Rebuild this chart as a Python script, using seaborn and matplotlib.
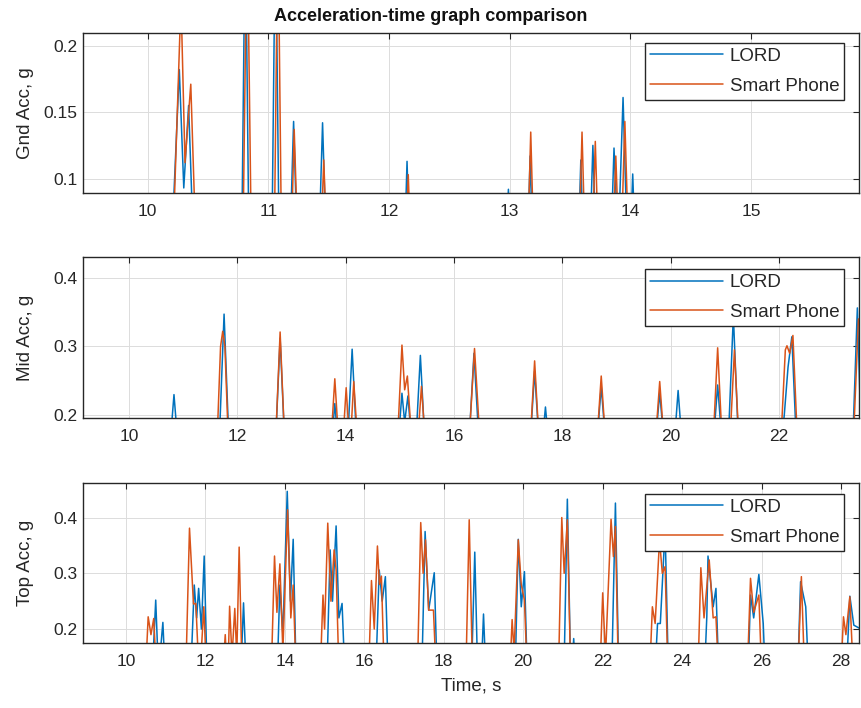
import numpy as np
import pandas as pd
import matplotlib
matplotlib.use("Agg")
import matplotlib.pyplot as plt
import seaborn as sns
from matplotlib.ticker import FuncFormatter
from matplotlib.lines import Line2D

# ---------------- data (time s, acceleration g) ----------------
gnd_lord = [(9.40, 0.05), (10.20, 0.05), (10.263, 0.182), (10.30, 0.093), (10.34, 0.155), (10.38, 0.05),
            (10.78, 0.05), (10.81, 0.30), (10.84, 0.05), (11.03, 0.05), (11.06, 0.30), (11.09, 0.05),
            (11.18, 0.05), (11.21, 0.143), (11.24, 0.05), (11.42, 0.05), (11.45, 0.142), (11.48, 0.05),
            (12.13, 0.05), (12.15, 0.113), (12.17, 0.05), (12.97, 0.05), (12.99, 0.092), (13.01, 0.05),
            (13.15, 0.05), (13.17, 0.117), (13.19, 0.05), (13.57, 0.05), (13.59, 0.114), (13.61, 0.05),
            (13.665, 0.05), (13.69, 0.125), (13.715, 0.05), (13.84, 0.05), (13.865, 0.123), (13.90, 0.05),
            (13.94, 0.161), (13.975, 0.05), (14.00, 0.05), (14.02, 0.1035), (14.04, 0.05), (16.0, 0.05)]
gnd_phone = [(9.40, 0.05), (10.21, 0.05), (10.277, 0.235), (10.31, 0.112), (10.358, 0.171), (10.40, 0.05),
             (10.79, 0.05), (10.825, 0.30), (10.86, 0.05), (11.05, 0.05), (11.08, 0.30), (11.11, 0.05),
             (11.19, 0.05), (11.215, 0.137), (11.245, 0.05), (11.435, 0.05), (11.46, 0.114), (11.485, 0.05),
             (12.14, 0.05), (12.16, 0.103), (12.18, 0.05), (13.15, 0.05), (13.175, 0.135), (13.20, 0.05),
             (13.575, 0.05), (13.60, 0.135), (13.625, 0.05), (13.685, 0.05), (13.71, 0.128), (13.735, 0.05),
             (13.855, 0.05), (13.88, 0.117), (13.905, 0.05), (13.925, 0.05), (13.955, 0.143), (13.985, 0.05),
             (16.0, 0.05)]

mid_lord = [(9.1, 0.15), (10.75, 0.15), (10.83, 0.230), (10.91, 0.15), (11.66, 0.15), (11.755, 0.347),
            (11.85, 0.15), (12.70, 0.15), (12.79, 0.312), (12.88, 0.15), (13.73, 0.15), (13.80, 0.217),
            (13.87, 0.15), (14.03, 0.15), (14.12, 0.296), (14.21, 0.15), (14.96, 0.15), (15.04, 0.232),
            (15.09, 0.19), (15.15, 0.228), (15.23, 0.15), (15.29, 0.15), (15.38, 0.287), (15.47, 0.15),
            (16.27, 0.15), (16.37, 0.290), (16.47, 0.15), (17.40, 0.15), (17.49, 0.264), (17.58, 0.15),
            (17.62, 0.15), (17.69, 0.212), (17.76, 0.15), (18.63, 0.15), (18.72, 0.242), (18.81, 0.15),
            (19.71, 0.15), (19.80, 0.233), (19.89, 0.15), (20.06, 0.15), (20.14, 0.236), (20.22, 0.15),
            (20.78, 0.15), (20.87, 0.244), (20.96, 0.15), (21.06, 0.15), (21.16, 0.345), (21.26, 0.15),
            (22.03, 0.15), (22.10, 0.20), (22.17, 0.27), (22.24, 0.314), (22.33, 0.15), (23.36, 0.15),
            (23.45, 0.356), (23.50, 0.22)]
mid_phone = [(9.1, 0.15), (11.62, 0.15), (11.69, 0.30), (11.73, 0.322), (11.77, 0.30), (11.84, 0.15),
             (12.70, 0.15), (12.79, 0.321), (12.88, 0.15), (13.72, 0.15), (13.80, 0.253), (13.88, 0.15),
             (13.94, 0.15), (14.01, 0.240), (14.08, 0.15), (14.15, 0.249), (14.23, 0.15), (14.95, 0.15),
             (15.04, 0.302), (15.09, 0.237), (15.14, 0.257), (15.23, 0.15), (15.32, 0.15), (15.40, 0.242),
             (15.48, 0.15), (16.27, 0.15), (16.38, 0.297), (16.49, 0.15), (17.40, 0.15), (17.49, 0.279),
             (17.58, 0.15), (18.63, 0.15), (18.72, 0.257), (18.81, 0.15), (19.71, 0.15), (19.80, 0.249),
             (19.89, 0.15), (20.78, 0.15), (20.87, 0.298), (20.96, 0.15), (21.09, 0.15), (21.18, 0.295),
             (21.27, 0.15), (22.03, 0.15), (22.12, 0.295), (22.15, 0.301), (22.20, 0.29), (22.26, 0.316),
             (22.35, 0.15), (23.37, 0.15), (23.47, 0.34), (23.50, 0.33)]

top_lord = [(8.9, 0.1), (10.65, 0.1), (10.75, 0.252), (10.82, 0.12), (10.93, 0.212), (11.0, 0.1),
            (11.62, 0.1), (11.72, 0.279), (11.78, 0.22), (11.83, 0.273), (11.90, 0.2), (11.97, 0.331), (12.05, 0.1),
            (12.88, 0.1), (12.96, 0.247), (13.04, 0.1),
            (13.80, 0.1), (13.875, 0.279), (13.95, 0.19), (14.06, 0.447), (14.14, 0.25), (14.21, 0.361), (14.29, 0.1),
            (15.05, 0.1), (15.14, 0.342), (15.20, 0.25), (15.29, 0.385), (15.36, 0.22), (15.44, 0.246), (15.52, 0.1),
            (16.28, 0.1), (16.375, 0.306), (16.45, 0.25), (16.53, 0.294), (16.61, 0.1),
            (17.44, 0.1), (17.53, 0.375), (17.62, 0.234), (17.76, 0.301), (17.84, 0.1),
            (18.69, 0.1), (18.78, 0.338), (18.86, 0.1), (18.93, 0.1), (19.0, 0.227), (19.07, 0.1),
            (19.79, 0.1), (19.875, 0.361), (19.95, 0.24), (20.03, 0.303), (20.11, 0.1),
            (21.02, 0.1), (21.11, 0.433), (21.20, 0.1), (21.27, 0.183), (21.33, 0.1),
            (22.22, 0.1), (22.32, 0.426), (22.41, 0.1),
            (23.30, 0.1), (23.38, 0.21), (23.45, 0.21), (23.57, 0.38), (23.66, 0.1),
            (24.55, 0.1), (24.62, 0.222), (24.65, 0.331), (24.78, 0.24), (24.85, 0.273), (24.93, 0.1),
            (25.65, 0.1), (25.72, 0.261), (25.80, 0.22), (25.93, 0.298), (26.04, 0.21), (26.10, 0.1),
            (26.90, 0.1), (26.98, 0.285), (27.11, 0.24), (27.19, 0.1),
            (28.12, 0.1), (28.22, 0.259), (28.32, 0.207), (28.50, 0.2)]
top_phone = [(8.9, 0.1), (10.48, 0.1), (10.56, 0.222), (10.63, 0.19), (10.70, 0.219), (10.78, 0.1),
             (11.50, 0.1), (11.60, 0.381), (11.70, 0.245), (11.76, 0.246), (11.85, 0.1), (11.96, 0.24), (12.04, 0.1),
             (12.42, 0.1), (12.50, 0.19), (12.56, 0.1), (12.61, 0.241), (12.67, 0.15), (12.74, 0.237),
             (12.79, 0.15), (12.85, 0.347), (12.93, 0.1),
             (13.65, 0.1), (13.74, 0.331), (13.80, 0.23), (13.875, 0.317), (13.95, 0.16), (14.07, 0.414),
             (14.15, 0.22), (14.21, 0.279), (14.29, 0.1),
             (14.88, 0.1), (14.96, 0.261), (15.0, 0.2), (15.08, 0.390), (15.16, 0.25), (15.24, 0.342),
             (15.29, 0.306), (15.37, 0.1),
             (16.10, 0.1), (16.18, 0.287), (16.25, 0.2), (16.33, 0.349), (16.38, 0.28), (16.43, 0.295), (16.51, 0.1),
             (17.33, 0.1), (17.42, 0.391), (17.48, 0.3), (17.54, 0.36), (17.62, 0.234), (17.74, 0.234), (17.82, 0.1),
             (18.55, 0.1), (18.64, 0.396), (18.73, 0.1),
             (19.65, 0.1), (19.72, 0.217), (19.77, 0.16), (19.875, 0.36), (19.95, 0.28), (20.03, 0.252), (20.11, 0.1),
             (20.88, 0.1), (20.97, 0.400), (21.03, 0.3), (21.11, 0.396), (21.20, 0.1),
             (21.92, 0.1), (22.0, 0.265), (22.07, 0.15), (22.21, 0.397), (22.27, 0.33), (22.32, 0.384), (22.40, 0.1),
             (23.17, 0.1), (23.25, 0.24), (23.32, 0.21), (23.43, 0.36), (23.50, 0.30), (23.57, 0.312), (23.65, 0.1),
             (24.39, 0.1), (24.47, 0.310), (24.55, 0.22), (24.68, 0.324), (24.78, 0.22), (24.85, 0.222), (24.93, 0.1),
             (25.63, 0.1), (25.72, 0.291), (25.80, 0.23), (25.93, 0.261), (26.01, 0.1),
             (26.90, 0.1), (27.0, 0.294), (27.09, 0.1),
             (27.98, 0.1), (28.06, 0.222), (28.12, 0.19), (28.22, 0.258), (28.32, 0.1)]

series_names = ["LORD", "Smart Phone"]
ylabels = ["Gnd Acc, g", "Mid Acc, g", "Top Acc, g"]
xticks = [[10, 11, 12, 13, 14, 15], list(range(10, 23, 2)), list(range(10, 29, 2))]
yticks = [[0.1, 0.15, 0.2], [0.2, 0.3, 0.4], [0.2, 0.3, 0.4]]
xlims = [(9.465, 15.895), (9.15, 23.48), (8.92, 28.45)]
ylims = [(0.0892, 0.2095), (0.196, 0.430), (0.1745, 0.4625)]
title = "Acceleration-time graph comparison"
xlabel = "Time, s"

colors = {"LORD": "#0072BD", "Smart Phone": "#D95319"}

# ---------------- style ----------------
sns.set_style("white")
plt.rcParams["font.family"] = ["Liberation Sans", "DejaVu Sans"]

fig = plt.figure(figsize=(8.62, 7.08), dpi=100)
left, width = 0.0963, 0.9002
positions = [(left, 0.7274, width, 0.2260), (left, 0.4096, width, 0.2274), (left, 0.0914, width, 0.2268)]
legend_top = [0.9375, 0.925, 0.93]

pairs = [(gnd_lord, gnd_phone), (mid_lord, mid_phone), (top_lord, top_phone)]
fmt = FuncFormatter(lambda v, p: "%g" % v)

for i, (lord, phone) in enumerate(pairs):
    ax = fig.add_axes(positions[i])
    frames = []
    for name, data in zip(series_names, (lord, phone)):
        d = pd.DataFrame(data, columns=["time", "acc"])
        d["sensor"] = name
        frames.append(d)
    df = pd.concat(frames, ignore_index=True)
    sns.lineplot(data=df, x="time", y="acc", hue="sensor", palette=colors, sort=False,
                 estimator=None, linewidth=1.1, ax=ax, legend=False)
    ax.set_xlim(*xlims[i])
    ax.set_ylim(*ylims[i])
    ax.set_xticks(xticks[i])
    ax.set_yticks(yticks[i])
    ax.yaxis.set_major_formatter(fmt)
    ax.grid(True, color="#dcdcdc", linewidth=0.7)
    ax.set_axisbelow(True)
    for s in ax.spines.values():
        s.set_color("#262626")
        s.set_linewidth(1.0)
        s.set_visible(True)
    ax.tick_params(direction="in", length=4, width=0.8, colors="#262626",
                   top=True, right=True, labelsize=12.5)
    ax.tick_params(axis="y", pad=4)
    ax.tick_params(axis="x", pad=8)
    if i < 2:
        ax.set_xlabel("")
    else:
        ax.set_xlabel(xlabel, fontsize=13.5, color="#262626")
        ax.xaxis.set_label_coords(0.5, -0.216)
    ax.set_ylabel(ylabels[i], fontsize=13.5, color="#262626")
    ax.yaxis.set_label_coords(-0.063, 0.5)

    handles = [Line2D([0], [0], color=colors[n], linewidth=1.1) for n in series_names]
    leg = ax.legend(handles, series_names, loc="upper right", bbox_to_anchor=(0.981, legend_top[i]),
                    borderaxespad=0, fancybox=False, framealpha=1, edgecolor="#262626",
                    fontsize=13.5, handlelength=3.9, handletextpad=0.35, labelspacing=0.68,
                    borderpad=0.26)
    leg.get_frame().set_linewidth(1.0)

fig.text(0.5, 0.977, title, ha="center", va="center", fontsize=13, fontweight="bold", color="#111111")

fig.savefig("out.png", dpi=100)
